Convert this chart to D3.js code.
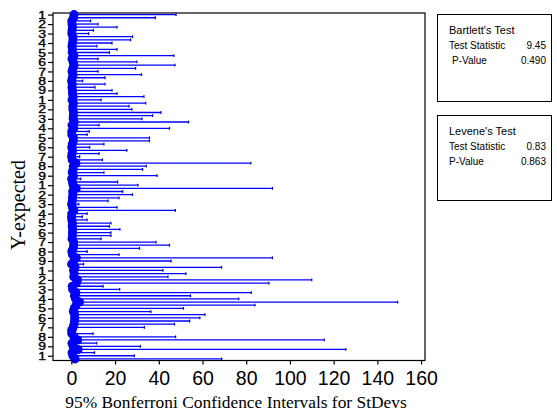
<!DOCTYPE html>
<html>
<head>
<meta charset="utf-8">
<script src="https://cdn.jsdelivr.net/npm/d3@7"></script>
<style>
    body { margin: 0; background: #fff; }
    svg { display: block; }
</style>
</head>
<body>
<div id="chart"></div>
<script>
// Upper 95% Bonferroni bounds, one per Y-expected level (top to bottom)
const upperCI = [
    47.9, 38.4, 8.8, 12.2, 20.9, 10.1, 7.9, 28.0, 27.1, 18.6,
    11.7, 20.9, 17.4, 46.9, 12.2, 30.0, 47.4, 29.4, 12.2, 32.1,
    15.4, 5.2, 15.4, 10.8, 18.6, 20.9, 33.2, 13.6, 34.0, 26.4,
    27.7, 41.0, 37.2, 32.3, 53.6, 12.7, 44.9, 8.2, 7.2, 35.7,
    35.7, 14.9, 8.4, 25.4, 12.7, 3.8, 14.2, 82.1, 34.3, 32.6,
    14.9, 39.2, 4.3, 21.2, 30.5, 92.0, 23.5, 28.0, 21.8, 16.8,
    3.4, 20.9, 47.6, 7.2, 5.0, 7.2, 18.1, 17.4, 22.2, 18.1,
    18.1, 13.6, 38.7, 44.9, 31.2, 7.2, 21.8, 92.0, 45.6, 5.6,
    68.7, 41.9, 52.4, 44.2, 110.0, 90.4, 14.5, 22.1, 82.3, 54.5,
    76.6, 149.3, 84.0, 51.3, 36.4, 61.1, 58.8, 54.1, 47.2, 33.4,
    2.0, 9.9, 47.7, 115.7, 11.6, 31.6, 125.6, 10.6, 28.8, 68.8
];

// StDev estimates (the dots)
const stdevs = [
    1.2, 1.0, 0.2, 0.3, 0.5, 0.3, 0.2, 0.7, 0.7, 0.5,
    0.3, 0.5, 0.4, 1.2, 0.3, 0.8, 1.2, 0.7, 0.3, 0.8,
    0.4, 0.1, 0.4, 0.3, 0.5, 0.5, 0.8, 0.3, 0.9, 0.7,
    0.7, 1.0, 0.9, 0.8, 1.3, 0.3, 1.1, 0.2, 0.2, 0.9,
    0.9, 0.4, 0.2, 0.6, 0.3, 0.1, 0.4, 2.1, 0.9, 0.8,
    0.4, 1.0, 0.1, 0.5, 0.8, 2.3, 0.6, 0.7, 0.5, 0.4,
    0.1, 0.5, 1.2, 0.2, 0.1, 0.2, 0.5, 0.4, 0.6, 0.5,
    0.5, 0.3, 1.0, 1.1, 0.8, 0.2, 0.5, 2.3, 1.1, 0.1,
    1.7, 1.0, 1.3, 1.1, 2.8, 2.3, 0.4, 0.6, 2.1, 1.4,
    1.9, 3.7, 2.1, 1.3, 0.9, 1.5, 1.5, 1.4, 1.2, 0.8,
    0.1, 0.2, 1.2, 2.9, 0.3, 0.8, 3.1, 0.3, 0.7, 1.7
];

// Lower bounds
const lowerCI = [
    0.6, 0.5, 0.1, 0.2, 0.3, 0.2, 0.1, 0.4, 0.4, 0.3,
    0.2, 0.3, 0.2, 0.6, 0.2, 0.4, 0.6, 0.4, 0.2, 0.4,
    0.2, 0.1, 0.2, 0.2, 0.3, 0.3, 0.4, 0.2, 0.5, 0.4,
    0.4, 0.5, 0.5, 0.4, 0.7, 0.2, 0.6, 0.1, 0.1, 0.5,
    0.5, 0.2, 0.1, 0.3, 0.2, 0.1, 0.2, 1.1, 0.5, 0.4,
    0.2, 0.5, 0.1, 0.3, 0.4, 1.2, 0.3, 0.4, 0.3, 0.2,
    0.1, 0.3, 0.6, 0.1, 0.1, 0.1, 0.3, 0.2, 0.3, 0.3,
    0.3, 0.2, 0.5, 0.6, 0.4, 0.1, 0.3, 1.2, 0.6, 0.1,
    0.9, 0.5, 0.7, 0.6, 1.4, 1.2, 0.2, 0.3, 1.1, 0.7,
    1.0, 1.9, 1.1, 0.7, 0.5, 0.8, 0.8, 0.7, 0.6, 0.4,
    0.1, 0.1, 0.6, 1.5, 0.2, 0.4, 1.6, 0.2, 0.4, 0.9
];

// Y axis tick labels (every third level gets a tick)
const yTickLabels = [
    '1', '2', '3', '4', '5', '6', '7', '8', '9',
    '1', '2', '3', '4', '5', '6', '7', '8', '9',
    '1', '2', '3', '4', '5', '6', '7', '8', '9',
    '1', '2', '3', '4', '5', '6', '7', '8', '9',
    '1'
];
const xTicks = [0, 20, 40, 60, 80, 100, 120, 140, 160];

// Test results shown in the side boxes
const bartlett = { title: "Bartlett's Test", stat: '9.45', p: '0.490' };
const levene = { title: "Levene's Test", stat: '0.83', p: '0.863' };

// Container dimensions
const width = 557;
const height = 412;
const plot = { left: 53, right: 425, top: 13, bottom: 360.5 };
const blue = '#0000ff';

const svg = d3.select('#chart')
    .append('svg')
    .attr('width', width)
    .attr('height', height)
    .style('background', '#fff');

const rows = d3.range(upperCI.length);

// Scales
const xScale = d3.scaleLinear()
    .domain([-8.4, 161.8])
    .range([plot.left, plot.right]);

const yScale = d3.scaleLinear()
    .domain([-0.5, rows.length - 0.5])
    .range([plot.top, plot.bottom]);

const tickRows = yTickLabels.map((d, i) => i * 3);

// Plot frame
svg.append('rect')
    .attr('x', plot.left)
    .attr('y', plot.top)
    .attr('width', plot.right - plot.left)
    .attr('height', plot.bottom - plot.top)
    .attr('fill', 'none')
    .attr('stroke', '#000')
    .attr('stroke-width', 1.2);

// Interval lines
const g = svg.append('g').attr('class', 'intervals');

g.selectAll('line.ci')
    .data(rows)
    .enter().append('line')
    .attr('class', 'ci')
    .attr('x1', i => xScale(lowerCI[i]))
    .attr('x2', i => xScale(upperCI[i]))
    .attr('y1', i => yScale(i))
    .attr('y2', i => yScale(i))
    .attr('stroke', blue)
    .attr('stroke-width', 1.3);

// End caps on the upper bound
g.selectAll('line.cap')
    .data(rows)
    .enter().append('line')
    .attr('class', 'cap')
    .attr('x1', i => xScale(upperCI[i]))
    .attr('x2', i => xScale(upperCI[i]))
    .attr('y1', i => yScale(i) - 1.4)
    .attr('y2', i => yScale(i) + 1.4)
    .attr('stroke', '#0000b0')
    .attr('stroke-width', 1.2);

// StDev dots
g.selectAll('circle')
    .data(rows)
    .enter().append('circle')
    .attr('cx', i => xScale(stdevs[i]))
    .attr('cy', i => yScale(i))
    .attr('r', 4.5)
    .attr('fill', blue);

// X axis
const xAxis = d3.axisBottom(xScale)
    .tickValues(xTicks)
    .tickSize(4)
    .tickSizeOuter(0)
    .tickPadding(7);

const xg = svg.append('g')
    .attr('transform', `translate(0,${plot.bottom})`)
    .call(xAxis);
xg.select('.domain').remove();
xg.selectAll('line').attr('stroke', '#000').attr('stroke-width', 1.2);
xg.selectAll('text')
    .attr('fill', '#000')
    .style('font-family', '"Liberation Sans", Arial, sans-serif')
    .style('font-size', '19.5px');

// Y axis (labels are squeezed vertically and overlap, as in the original)
const yAxis = d3.axisLeft(yScale)
    .tickValues(tickRows)
    .tickFormat((d, i) => yTickLabels[i])
    .tickSize(5)
    .tickSizeOuter(0)
    .tickPadding(2);

const yg = svg.append('g')
    .attr('transform', `translate(${plot.left},0)`)
    .call(yAxis);
yg.select('.domain').remove();
yg.selectAll('line').attr('stroke', '#000').attr('stroke-width', 1.2);
yg.selectAll('text')
    .attr('fill', '#000')
    .attr('stroke', '#000')
    .attr('stroke-width', 0.45)
    .attr('transform', 'scale(1,0.8)')
    .style('font-family', '"Liberation Sans", Arial, sans-serif')
    .style('font-size', '14px');

// Axis titles
svg.append('text')
    .attr('x', 236)
    .attr('y', 408)
    .attr('text-anchor', 'middle')
    .style('font-family', '"Liberation Serif", "Times New Roman", serif')
    .style('font-size', '17.4px')
    .text('95% Bonferroni Confidence Intervals for StDevs');

svg.append('text')
    .attr('transform', 'translate(25,205) rotate(-90)')
    .attr('text-anchor', 'middle')
    .style('font-family', '"Liberation Serif", "Times New Roman", serif')
    .style('font-size', '20px')
    .text('Y-expected');

// Side boxes with test results
function testBox(top, boxHeight, test, pIndent) {
    const box = svg.append('g').attr('transform', `translate(437.5,${top})`);
    box.append('rect')
        .attr('width', 114)
        .attr('height', boxHeight)
        .attr('fill', '#fff')
        .attr('stroke', '#000')
        .attr('stroke-width', 1);

    const font = '"Liberation Sans", Arial, sans-serif';
    box.append('text')
        .attr('x', 11.5)
        .attr('y', 19.5)
        .style('font-family', font)
        .style('font-size', '11px')
        .text(test.title);

    box.append('text')
        .attr('x', 11.5)
        .attr('y', 34)
        .style('font-family', font)
        .style('font-size', '10px')
        .text('Test Statistic');
    box.append('text')
        .attr('x', 108.5)
        .attr('y', 34)
        .attr('text-anchor', 'end')
        .style('font-family', font)
        .style('font-size', '10px')
        .text(test.stat);

    box.append('text')
        .attr('x', 11.5 + pIndent)
        .attr('y', 49)
        .style('font-family', font)
        .style('font-size', '10px')
        .text('P-Value');
    box.append('text')
        .attr('x', 108.5)
        .attr('y', 49)
        .attr('text-anchor', 'end')
        .style('font-family', font)
        .style('font-size', '10px')
        .text(test.p);
}

testBox(14.5, 87, bartlett, 3);
testBox(115.5, 85, levene, 0);
</script>
</body>
</html>
